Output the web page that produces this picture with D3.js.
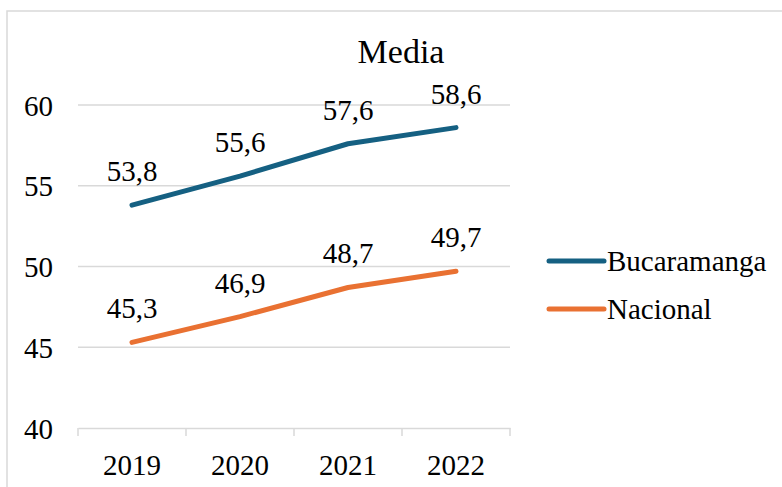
<!DOCTYPE html>
<html>
<head>
<meta charset="utf-8">
<script src="https://cdn.jsdelivr.net/npm/d3@7"></script>
<style>
  html, body { margin: 0; padding: 0; background: #fff; }
  svg { display: block; }
</style>
</head>
<body>
<script>
    const years = ["2019", "2020", "2021", "2022"];
    const bucaramanga = [53.8, 55.6, 57.6, 58.6];
    const nacional = [45.3, 46.9, 48.7, 49.7];
    const yTicks = [40, 45, 50, 55, 60];
    const seriesNames = ["Bucaramanga", "Nacional"];
    const colors = { "Bucaramanga": "#156082", "Nacional": "#E97132" };
    const font = "'Liberation Serif', 'Times New Roman', Times, serif";

    const width = 782, height = 487;
    const svg = d3.select("body").append("svg")
        .attr("width", width)
        .attr("height", height)
        .style("font-family", font);

    // outer chart border (runs off the right and bottom of the picture)
    svg.append("rect")
        .attr("x", 7).attr("y", 11)
        .attr("width", 820).attr("height", 520)
        .attr("fill", "none")
        .attr("stroke", "#d9d9d9")
        .attr("stroke-width", 1.5);

    const x = d3.scaleBand().domain(years).range([78, 510]);
    const y = d3.scaleLinear().domain([40, 60]).range([428, 105]);

    // gridlines
    svg.append("g")
        .selectAll("line")
        .data(yTicks.filter(d => d !== 40))
        .enter()
        .append("line")
        .attr("x1", 78).attr("x2", 510)
        .attr("y1", d => y(d)).attr("y2", d => y(d))
        .attr("stroke", "#d9d9d9")
        .attr("stroke-width", 1.5);

    // y axis labels
    const yAxis = d3.axisLeft(y).tickValues(yTicks).tickSize(0).tickPadding(25);
    const gy = svg.append("g").attr("transform", "translate(78,0)").call(yAxis)
        .attr("font-family", null).attr("font-size", null);
    gy.select(".domain").remove();
    gy.selectAll("text")
        .style("font-family", font)
        .style("font-size", "29px")
        .attr("fill", "#000")
        .attr("dy", "0.35em");

    // x axis with category boundary ticks
    const xAxis = d3.axisBottom(x).tickSize(0).tickPadding(26);
    const gx = svg.append("g").attr("transform", "translate(0,428)").call(xAxis)
        .attr("font-family", null).attr("font-size", null);
    gx.select(".domain").attr("stroke", "#d9d9d9").attr("stroke-width", 1.5);
    gx.selectAll("text")
        .style("font-family", font)
        .style("font-size", "29px")
        .attr("fill", "#000");
    const bounds = years.map(d => x(d)).concat([x.range()[1]]);
    gx.selectAll(".bound")
        .data(bounds)
        .enter()
        .append("line")
        .attr("class", "bound")
        .attr("x1", d => d).attr("x2", d => d)
        .attr("y1", 0).attr("y2", 8)
        .attr("stroke", "#d9d9d9")
        .attr("stroke-width", 1.5);

    // lines
    const line = d3.line()
        .x((d, i) => x(years[i]) + x.bandwidth() / 2)
        .y(d => y(d));

    const data = { "Bucaramanga": bucaramanga, "Nacional": nacional };
    seriesNames.forEach(name => {
        svg.append("path")
            .datum(data[name])
            .attr("d", line)
            .attr("fill", "none")
            .attr("stroke", colors[name])
            .attr("stroke-width", 5)
            .attr("stroke-linecap", "round")
            .attr("stroke-linejoin", "round");

        svg.selectAll(".lbl-" + name)
            .data(data[name])
            .enter()
            .append("text")
            .attr("x", (d, i) => x(years[i]) + x.bandwidth() / 2)
            .attr("y", d => y(d) - 24)
            .attr("text-anchor", "middle")
            .style("font-family", font)
            .style("font-size", "29px")
            .text(d => d.toFixed(1).replace(".", ","));
    });

    // title
    svg.append("text")
        .attr("x", 401)
        .attr("y", 63)
        .attr("text-anchor", "middle")
        .style("font-family", font)
        .style("font-size", "34px")
        .text("Media");

    // legend
    const legend = svg.append("g")
        .selectAll("g")
        .data(seriesNames)
        .enter()
        .append("g")
        .attr("transform", (d, i) => "translate(549," + (261 + i * 48) + ")");
    legend.append("line")
        .attr("x1", 0).attr("x2", 55)
        .attr("y1", 0).attr("y2", 0)
        .attr("stroke", d => colors[d])
        .attr("stroke-width", 5)
        .attr("stroke-linecap", "round");
    legend.append("text")
        .attr("x", 58)
        .attr("y", 10)
        .style("font-family", font)
        .style("font-size", "29px")
        .text(d => d);
</script>
</body>
</html>
